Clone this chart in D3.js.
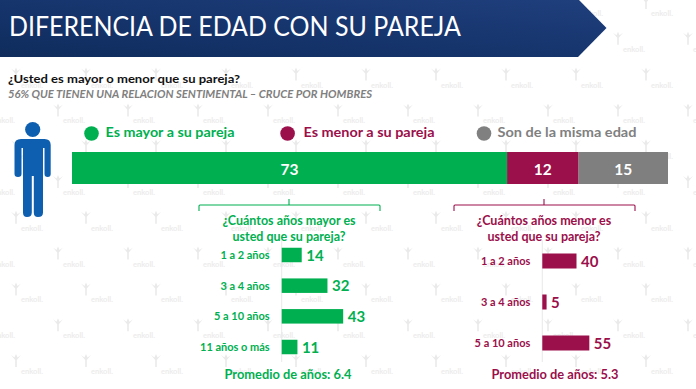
<!DOCTYPE html>
<html><head><meta charset="utf-8">
<script src="https://cdn.jsdelivr.net/npm/d3@7"></script>
<style>html,body{margin:0;padding:0;background:#fff}svg{display:block}text{font-family:Lato,"Open Sans",sans-serif}</style>
</head><body><svg id="c" width="696" height="389"></svg>
<script>
const titleText = "DIFERENCIA DE EDAD CON SU PAREJA";
const question = "¿Usted es mayor o menor que su pareja?";
const subtitle = "56% QUE TIENEN UNA RELACION SENTIMENTAL – CRUCE POR HOMBRES";
const stackLabels = ["Es mayor a su pareja","Es menor a su pareja","Son de la misma edad"];
const stackValues = [73,12,15];
const stackColors = ["#00b050","#9b0f4b","#7f7f7f"];
const olderCats = ["1 a 2 años","3 a 4 años","5 a 10 años","11 años o más"];
const olderVals = [14,32,43,11];
const youngerCats = ["1 a 2 años","3 a 4 años","5 a 10 años"];
const youngerVals = [40,5,55];

const svg = d3.select("#c");
svg.append("rect").attr("width",696).attr("height",389).attr("fill","#fff");

// watermark
const wm = svg.append("g");
for(let r=0;r<11;r++){
  const y=14+35.8*r, off=r%2?4:32;
  for(let i=-1;i<11;i++){
    const x=off+70*i;
    wm.append("text").attr("x",x).attr("y",y+2).attr("text-anchor","middle")
      .attr("font-size",7.5).attr("font-weight",700).attr("fill","#ececec").text("enkoll.");
    wm.append("path").attr("transform",`translate(${x-16},${y-11})`)
      .attr("d","M-0.8,6L-0.8,-1L-5,-6L-1.5,-3.5L0,-7L1.5,-3.5L5,-6L0.8,-1L0.8,6Z").attr("fill","#eaeaea");
  }
}

// header
const defs=svg.append("defs");
const g=defs.append("linearGradient").attr("id","hdr").attr("x1","0").attr("y1","1").attr("x2","1").attr("y2","0");
g.append("stop").attr("offset","0").attr("stop-color","#0f2c5c");
g.append("stop").attr("offset","0.55").attr("stop-color","#17366f");
g.append("stop").attr("offset","1").attr("stop-color","#1f3f7d");
svg.append("path").attr("d","M0,0H579L606.500,28L578,57H0Z").attr("fill","url(#hdr)");
svg.append("text").attr("x",9).attr("y",36).attr("font-size",26).attr("fill","#fff")
  .attr("textLength",452).attr("lengthAdjust","spacingAndGlyphs").text(titleText);

svg.append("text").attr("x",8).attr("y",83).attr("font-size",12).attr("font-weight",700).attr("fill","#111")
  .attr("textLength",232).attr("lengthAdjust","spacingAndGlyphs").text(question);
svg.append("text").attr("x",8).attr("y",98).attr("font-size",10.500).attr("font-weight",700).attr("font-style","italic").attr("fill","#808080")
  .attr("textLength",364).attr("lengthAdjust","spacingAndGlyphs").text(subtitle);

// person
const person=svg.append("g").attr("fill","#0f5fb0");
person.append("circle").attr("cx",32.700).attr("cy",129.500).attr("r",7.600);
person.append("path").attr("d","M21,139H44.500Q50.700,139 50.700,145V174Q50.700,177 47.700,177Q44.500,177 44.500,174V148H43V212.500Q43,217 38,217Q33.800,217 33.800,212.500V176H31.800V212.500Q31.800,217 27,217Q23,217 23,212.500V148H21.500V174Q21.500,177 18,177Q14.500,177 14.500,174V145Q14.500,139 21,139Z");

// legend
const legendX=[91.5,287.6,484], legendTx=[105.5,303.5,497.5], legendW=[129,131,139];
const legendCol=[stackColors[0],stackColors[1],"#808080"];
stackLabels.forEach((t,i)=>{
  svg.append("circle").attr("cx",legendX[i]).attr("cy",133.500).attr("r",7.300).attr("fill",legendCol[i]);
  svg.append("text").attr("x",legendTx[i]).attr("y",137).attr("font-size",13.500).attr("font-weight",700).attr("fill",legendCol[i])
    .attr("textLength",legendW[i]).attr("lengthAdjust","spacingAndGlyphs").text(t);
});

// stacked bar
const xStack=d3.scaleLinear().domain([0,100]).range([72,668]);
let cum=0;
stackValues.forEach((v,i)=>{
  const x0=xStack(cum), x1=xStack(cum+v); cum+=v;
  svg.append("rect").attr("x",x0).attr("y",152).attr("width",x1-x0).attr("height",32).attr("fill",stackColors[i]);
  svg.append("text").attr("x",(x0+x1)/2).attr("y",174.500).attr("text-anchor","middle").attr("font-size",15.500).attr("font-weight",700).attr("fill","#fff").text(v);
});

function panel(o){
  const col=o.color;
  const p=svg.append("g");
  p.append("path").attr("d",`M${o.bx0},211V206Q${o.bx0},205 ${o.bx0+1},205H${o.bx1-1}Q${o.bx1},205 ${o.bx1},206V211M${o.bc},205V199`)
    .attr("fill","none").attr("stroke",col).attr("stroke-width",1.100);
  o.title.forEach((t,i)=>p.append("text").attr("x",o.tc).attr("y",225+16*i).attr("text-anchor","middle")
    .attr("font-size",12.500).attr("font-weight",700).attr("fill",col).text(t));
  const x=d3.scaleLinear().domain([0,100]).range([o.x0,o.x0+o.k*100]);
  const y=d3.scalePoint().domain(o.cats).range(o.yr);
  const axis=d3.axisLeft(y).tickSize(0).tickPadding(12);
  const a=p.append("g").attr("transform",`translate(${o.x0},0)`).call(axis);
  a.select(".domain").remove();
  a.selectAll("text").attr("font-size",11).attr("font-weight",700).attr("fill",col).style("font-family","Lato");
  p.append("line").attr("x1",o.x0).attr("x2",o.x0).attr("y1",240).attr("y2",362).attr("stroke","#e2e2e2").attr("stroke-width",0.800);
  p.selectAll("rect.b").data(o.vals).join("rect").attr("class","b")
    .attr("x",x(0)).attr("y",(d,i)=>y(o.cats[i])-o.h/2).attr("width",d=>x(d)-x(0)).attr("height",o.h).attr("fill",col);
  p.selectAll("text.v").data(o.vals).join("text").attr("class","v")
    .attr("x",d=>x(d)+4.500).attr("y",(d,i)=>y(o.cats[i])+5.500).attr("font-size",15).attr("font-weight",700).attr("fill",col).text(d=>d);
  p.append("text").attr("x",o.pc).attr("y",379).attr("text-anchor","middle").attr("font-size",12.500).attr("font-weight",700).attr("fill",col)
    .attr("textLength",127).attr("lengthAdjust","spacingAndGlyphs").text(o.prom);
}
panel({color:stackColors[0],bx0:199,bx1:380,bc:289,tc:289,title:["¿Cuántos años mayor es","usted que su pareja?"],
  x0:281.7,k:1.43,cats:olderCats,vals:olderVals,yr:[255,347],h:14.5,pc:288,prom:"Promedio de años: 6.4"});
panel({color:stackColors[1],bx0:454,bx1:635,bc:544,tc:544,title:["¿Cuántos años menor es","usted que su pareja?"],
  x0:542.3,k:0.855,cats:youngerCats,vals:youngerVals,yr:[261,343],h:15,pc:555,prom:"Promedio de años: 5.3"});
</script></body></html>
